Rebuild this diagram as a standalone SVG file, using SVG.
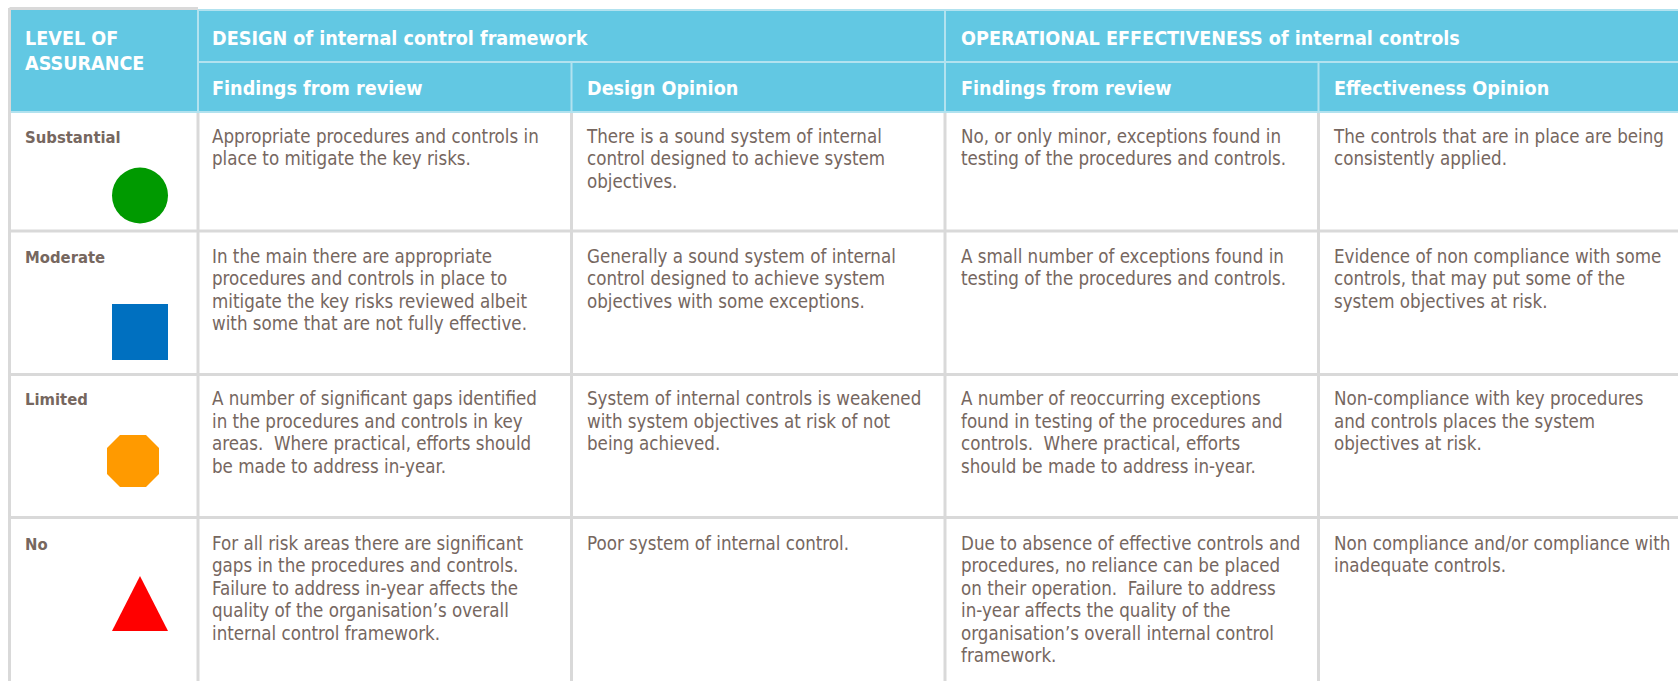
<svg xmlns="http://www.w3.org/2000/svg" width="1678" height="681" viewBox="0 0 1678 681">
<style>
text{font-family:'DejaVu Sans Condensed','DejaVu Sans',sans-serif;font-stretch:condensed;white-space:pre}
.h{fill:#ffffff;font-weight:bold;font-size:19.6px}
.b{fill:#76675f;font-size:18.6px}
.l{fill:#76675f;font-size:16.5px;font-weight:bold}
.grid{stroke:#d9d9d9;stroke-width:3;fill:none}
.hgrid{stroke:#b2e2ef;stroke-width:2;fill:none}
</style>
<rect width="1678" height="681" fill="#ffffff"/>
<g id="header">
<rect x="10" y="10" width="1668" height="102" fill="#62c8e3"/>
<g class="hgrid">
<line x1="198" y1="62" x2="1678" y2="62"/>
<line x1="198" y1="10" x2="198" y2="112"/>
<line x1="571.5" y1="62" x2="571.5" y2="112"/>
<line x1="945" y1="10" x2="945" y2="112"/>
<line x1="1318.5" y1="62" x2="1318.5" y2="112"/>
<line x1="198" y1="10" x2="1678" y2="10"/>
<line x1="10" y1="112" x2="1678" y2="112"/>
</g>
<text class="h" x="25" y="45">LEVEL OF</text>
<text class="h" x="25" y="70">ASSURANCE</text>
<text class="h" x="212" y="45">DESIGN of internal control framework</text>
<text class="h" x="961" y="45">OPERATIONAL EFFECTIVENESS of internal controls</text>
<text class="h" x="212" y="95">Findings from review</text>
<text class="h" x="587" y="95">Design Opinion</text>
<text class="h" x="961" y="95">Findings from review</text>
<text class="h" x="1334" y="95">Effectiveness Opinion</text>
</g>
<g id="grid" class="grid">
<line x1="9.5" y1="8.5" x2="198" y2="8.5"/>
<line x1="9.5" y1="8" x2="9.5" y2="681"/>
<line x1="198" y1="113" x2="198" y2="681"/>
<line x1="571.5" y1="113" x2="571.5" y2="681"/>
<line x1="945" y1="113" x2="945" y2="681"/>
<line x1="1318.5" y1="113" x2="1318.5" y2="681"/>
<line x1="9.5" y1="231" x2="1678" y2="231"/>
<line x1="9.5" y1="374.5" x2="1678" y2="374.5"/>
<line x1="9.5" y1="517.5" x2="1678" y2="517.5"/>
</g>
<g id="row-substantial">
<text class="l" x="25" y="143">Substantial</text>
<circle cx="140" cy="195.5" r="28" fill="#009a00"/>
<text class="b" x="212" y="143">Appropriate procedures and controls in<tspan x="212" dy="22.4">place to mitigate the key risks.</tspan></text>
<text class="b" x="587" y="143">There is a sound system of internal<tspan x="587" dy="22.4">control designed to achieve system</tspan><tspan x="587" dy="22.4">objectives.</tspan></text>
<text class="b" x="961" y="143">No, or only minor, exceptions found in<tspan x="961" dy="22.4">testing of the procedures and controls.</tspan></text>
<text class="b" x="1334" y="143">The controls that are in place are being<tspan x="1334" dy="22.4">consistently applied.</tspan></text>
</g>
<g id="row-moderate">
<text class="l" x="25" y="263">Moderate</text>
<rect x="112" y="304" width="56" height="56" fill="#0070c0"/>
<text class="b" x="212" y="263">In the main there are appropriate<tspan x="212" dy="22.4">procedures and controls in place to</tspan><tspan x="212" dy="22.4">mitigate the key risks reviewed albeit</tspan><tspan x="212" dy="22.4">with some that are not fully effective.</tspan></text>
<text class="b" x="587" y="263">Generally a sound system of internal<tspan x="587" dy="22.4">control designed to achieve system</tspan><tspan x="587" dy="22.4">objectives with some exceptions.</tspan></text>
<text class="b" x="961" y="263">A small number of exceptions found in<tspan x="961" dy="22.4">testing of the procedures and controls.</tspan></text>
<text class="b" x="1334" y="263">Evidence of non compliance with some<tspan x="1334" dy="22.4">controls, that may put some of the</tspan><tspan x="1334" dy="22.4">system objectives at risk.</tspan></text>
</g>
<g id="row-limited">
<text class="l" x="25" y="405">Limited</text>
<polygon points="120,435 146,435 159,448 159,474 146,487 120,487 107,474 107,448" fill="#ff9a00"/>
<text class="b" x="212" y="405">A number of significant gaps identified<tspan x="212" dy="22.6">in the procedures and controls in key</tspan><tspan x="212" dy="22.6">areas.  Where practical, efforts should</tspan><tspan x="212" dy="22.6">be made to address in-year.</tspan></text>
<text class="b" x="587" y="405">System of internal controls is weakened<tspan x="587" dy="22.6">with system objectives at risk of not</tspan><tspan x="587" dy="22.6">being achieved.</tspan></text>
<text class="b" x="961" y="405">A number of reoccurring exceptions<tspan x="961" dy="22.6">found in testing of the procedures and</tspan><tspan x="961" dy="22.6">controls.  Where practical, efforts</tspan><tspan x="961" dy="22.6">should be made to address in-year.</tspan></text>
<text class="b" x="1334" y="405">Non-compliance with key procedures<tspan x="1334" dy="22.6">and controls places the system</tspan><tspan x="1334" dy="22.6">objectives at risk.</tspan></text>
</g>
<g id="row-no">
<text class="l" x="25" y="550">No</text>
<polygon points="140,576 168,631 112,631" fill="#ff0000"/>
<text class="b" x="212" y="550">For all risk areas there are significant<tspan x="212" dy="22.4">gaps in the procedures and controls.</tspan><tspan x="212" dy="22.4">Failure to address in-year affects the</tspan><tspan x="212" dy="22.4">quality of the organisation’s overall</tspan><tspan x="212" dy="22.4">internal control framework.</tspan></text>
<text class="b" x="587" y="550">Poor system of internal control.</text>
<text class="b" x="961" y="550">Due to absence of effective controls and<tspan x="961" dy="22.4">procedures, no reliance can be placed</tspan><tspan x="961" dy="22.4">on their operation.  Failure to address</tspan><tspan x="961" dy="22.4">in-year affects the quality of the</tspan><tspan x="961" dy="22.4">organisation’s overall internal control</tspan><tspan x="961" dy="22.4">framework.</tspan></text>
<text class="b" x="1334" y="550">Non compliance and/or compliance with<tspan x="1334" dy="22.4">inadequate controls.</tspan></text>
</g>
</svg>
